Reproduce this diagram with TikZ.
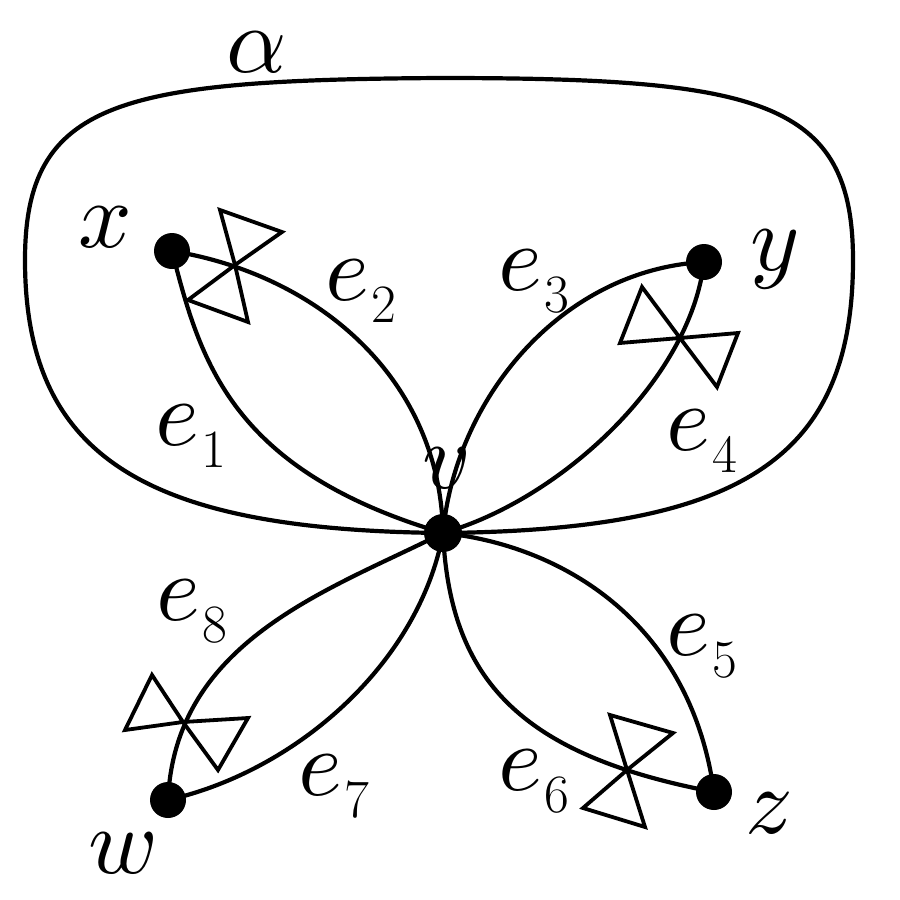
\documentclass[tikz,border=0pt]{standalone}
\usepackage{fontspec}
\newcommand{\mi}[1]{\scalebox{9.4}{$#1$}}
\newcommand{\elab}[1]{\mi{e}\kern3pt\raisebox{-22pt}{\fontsize{54}{54}\selectfont\upshape #1}}
\begin{document}
\begin{tikzpicture}[x=1pt,y=-1pt,
  ln/.style={line width=4.2pt},
  dotnode/.style={circle,fill=black,inner sep=0pt,minimum size=36pt},
  lab/.style={inner sep=0pt,anchor=base west},
  bowtie/.style={line width=3.8pt,line join=miter}]
\useasboundingbox (0,0) rectangle (900,900);
% vertices
\coordinate (v) at (443,533);
\coordinate (x) at (172,251);
\coordinate (y) at (704,262);
\coordinate (w) at (168,800);
\coordinate (z) at (714,792);
% alpha curve
\draw[ln] (v) .. controls (150,530) and (25,460) .. (25,260)
  .. controls (25,100) and (120,80) .. (440,78)
  .. controls (760,78) and (853,100) .. (853,260)
  .. controls (853,460) and (740,530) .. (v);
% edges
\draw[ln] (x) .. controls (200,360) and (230,470) .. (v);
\draw[ln] (x) .. controls (320,275) and (440,380) .. (v);
\draw[ln] (v) .. controls (455,400) and (560,270) .. (y);
\draw[ln] (y) .. controls (690,380) and (560,500) .. (v);
\draw[ln] (v) .. controls (560,545) and (690,620) .. (z);
\draw[ln] (v) .. controls (450,680) and (520,755) .. (z);
\draw[ln] (w) .. controls (300,770) and (420,660) .. (v);
\draw[ln] (w) .. controls (175,640) and (330,590) .. (v);
% bowties
\coordinate (b1) at (235,265);
\draw[bowtie] (b1) -- (220,210) -- (282,232) -- cycle (b1) -- (188,300) -- (248,322) -- cycle;
\coordinate (b2) at (680,338);
\draw[bowtie] (b2) -- (642,287) -- (620,343) -- cycle (b2) -- (738,333) -- (717,387) -- cycle;
\coordinate (b3) at (183,722);
\draw[bowtie] (b3) -- (152,675) -- (125,730) -- cycle (b3) -- (248,718) -- (218,770) -- cycle;
\coordinate (b4) at (627,770);
\draw[bowtie] (b4) -- (610,715) -- (673,733) -- cycle (b4) -- (583,808) -- (645,827) -- cycle;
% dots
\node[dotnode,minimum size=38pt] (nv) at (v) {};
\node[dotnode] (nx) at (x) {};
\node[dotnode] (ny) at (y) {};
\node[dotnode] (nw) at (w) {};
\node[dotnode] (nz) at (z) {};
% labels
\node[lab] (la) at (226,72) {\mi{\alpha}};
\node[lab] (lx) at (78,247) {\mi{x}};
\node[lab] (ly) at (750,270) {\mi{y}};
\node[lab] (lv) at (422,488) {\mi{v}};
\node[lab] (lw) at (88,873) {\mi{w}};
\node[lab] (lz) at (745,833) {\mi{z}};
\node[lab] (l1) at (155,445) {\elab{1}};
\node[lab] (l2) at (325,300) {\elab{2}};
\node[lab] (l3) at (498,290) {\elab{3}};
\node[lab] (l4) at (666,450) {\elab{4}};
\node[lab] (l5) at (666,655) {\elab{5}};
\node[lab] (l6) at (498,790) {\elab{6}};
\node[lab] (l7) at (298,795) {\elab{7}};
\node[lab] (l8) at (156,620) {\elab{8}};
\end{tikzpicture}
\end{document}
